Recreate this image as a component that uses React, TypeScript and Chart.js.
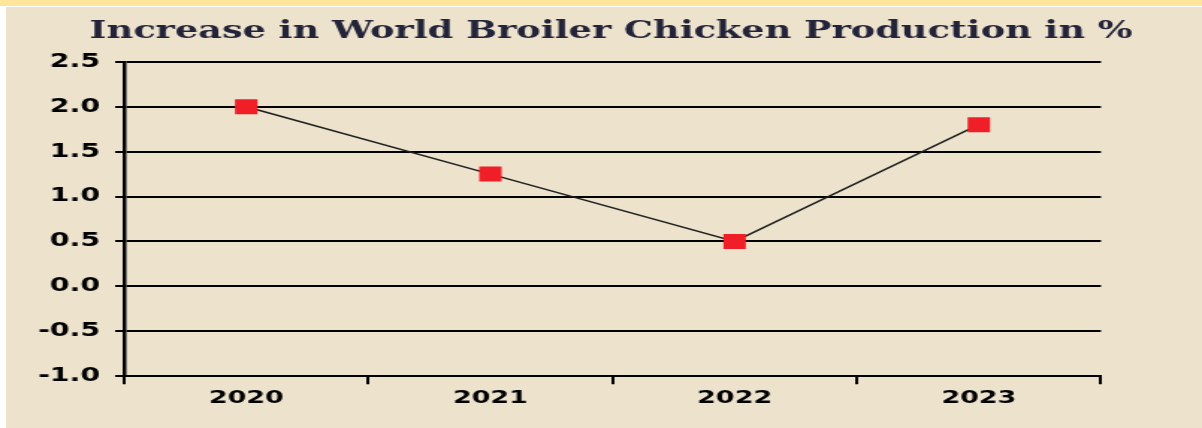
import { useEffect, useRef } from 'react';
import { Chart, registerables } from 'chart.js';

Chart.register(...registerables);

const years = ['2020', '2021', '2022', '2023'];
const increasePct = [2.0, 1.25, 0.5, 1.8];
const yTickValues = [-1.0, -0.5, 0.0, 0.5, 1.0, 1.5, 2.0, 2.5];
const chartTitle = 'Increase in World Broiler Chicken Production in %';

const INNER_W = 800;
const INNER_H = 421;
const STRETCH = 1196 / INNER_W;

export default function App() {
  const ref = useRef<HTMLCanvasElement>(null);

  useEffect(() => {
    if (!ref.current) return;
    const chart = new Chart(ref.current, {
      type: 'line',
      data: {
        labels: years,
        datasets: [
          {
            data: increasePct,
            borderColor: '#1e1e1e',
            borderWidth: 1.5,
            tension: 0,
            pointStyle: 'rect',
            pointRadius: 10.6,
            pointHoverRadius: 10.6,
            pointBackgroundColor: '#f01f27',
            pointBorderColor: '#f01f27',
            pointBorderWidth: 0,
            yAxisID: 'y',
          },
        ],
      },
      options: {
        animation: false,
        responsive: false,
        maintainAspectRatio: false,
        events: [],
        layout: { padding: { left: 9.4, right: 0, top: 0, bottom: 16.2 } },
        plugins: {
          legend: { display: false },
          tooltip: { enabled: false },
          title: {
            display: true,
            text: chartTitle,
            color: '#23233a',
            font: { family: 'DejaVu Serif', weight: 'bold', size: 24.5 },
            padding: { top: 10, bottom: 15.4 },
          },
        },
        scales: {
          x: {
            offset: true,
            grid: {
              display: true,
              offset: true,
              drawOnChartArea: false,
              drawTicks: true,
              tickLength: 8,
              lineWidth: 2,
              color: '#000',
            },
            border: { display: true, color: '#000', width: 2 },
            ticks: {
              color: '#000',
              padding: 3,
              maxRotation: 0,
              font: { family: 'DejaVu Sans', weight: 'bold', size: 18 },
            },
          },
          y: {
            position: 'left',
            min: -1,
            max: 2.5,
            afterFit: (s: any) => {
              s.width = 69.6;
            },
            afterBuildTicks: (s: any) => {
              s.ticks = yTickValues.map((v) => ({ value: v }));
            },
            grid: { color: '#000', lineWidth: 2, tickLength: 6, drawTicks: true },
            border: { display: true, color: '#000', width: 2.5 },
            ticks: {
              color: '#000',
              padding: 10,
              font: { family: 'DejaVu Sans', weight: 'bold', size: 19 },
              callback: (v: any) => Number(v).toFixed(1),
            },
          },
          yRightSpace: {
            position: 'right',
            display: true,
            grid: { display: false },
            border: { display: false },
            ticks: { display: false },
            afterFit: (s: any) => {
              s.width = 67.6;
            },
          },
        },
      },
    } as any);
    return () => chart.destroy();
  }, []);

  return (
    <div
      style={{
        position: 'absolute',
        left: 0,
        top: 0,
        width: 1202,
        height: 428,
        background: '#ffffff',
        overflow: 'hidden',
      }}
    >
      <div style={{ position: 'absolute', left: 0, top: 0, width: 1202, height: 6, background: '#ffe599' }} />
      <div style={{ position: 'absolute', left: 6, top: 7, width: 1196, height: 421, background: '#ede3cd' }}>
        <div
          style={{
            width: INNER_W,
            height: INNER_H,
            transform: `scaleX(${STRETCH})`,
            transformOrigin: '0 0',
          }}
        >
          <canvas ref={ref} width={INNER_W} height={INNER_H} />
        </div>
      </div>
    </div>
  );
}
